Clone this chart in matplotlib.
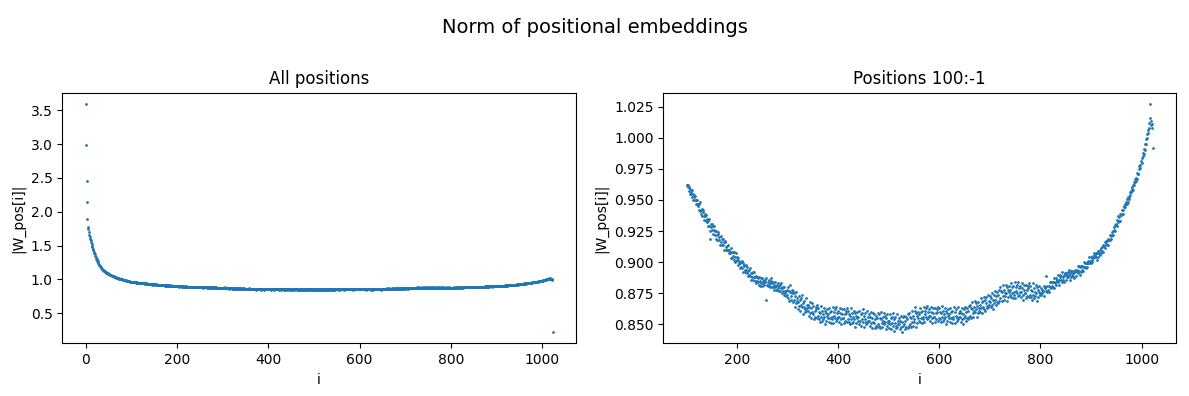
import numpy as np
import matplotlib
matplotlib.use("Agg")
import matplotlib.pyplot as plt

# norm of each positional embedding, in thousandths
norm_0_99 = [
    3590, 2990, 2460, 2140, 1890, 1780, 1740, 1700, 1660, 1630,
    1600, 1576, 1548, 1527, 1499, 1476, 1452, 1428, 1411, 1389,
    1371, 1348, 1332, 1309, 1296, 1278, 1266, 1249, 1237, 1219,
    1211, 1198, 1192, 1179, 1171, 1158, 1156, 1146, 1141, 1133,
    1131, 1122, 1119, 1110, 1107, 1099, 1097, 1090, 1089, 1082,
    1081, 1075, 1075, 1069, 1069, 1063, 1063, 1057, 1057, 1051,
    1051, 1045, 1045, 1039, 1040, 1033, 1034, 1027, 1028, 1021,
    1022, 1016, 1017, 1011, 1012, 1006, 1008, 1002, 1004, 999,
    1001, 995, 998, 992, 995, 988, 992, 985, 989, 981,
    984, 977, 981, 973, 977, 970, 973, 966, 969, 964,
]
norm_100_399 = [
    962, 962, 960, 962, 957, 960, 955, 959, 956, 955,
    958, 952, 955, 950, 954, 952, 950, 953, 947, 950,
    947, 950, 945, 947, 942, 947, 948, 941, 942, 939,
    943, 937, 940, 942, 937, 934, 939, 937, 933, 938,
    932, 935, 929, 933, 935, 929, 919, 925, 931, 928,
    931, 926, 929, 923, 926, 929, 922, 925, 919, 925,
    922, 918, 923, 924, 918, 920, 914, 921, 916, 919,
    914, 919, 914, 916, 910, 916, 917, 910, 912, 910,
    913, 910, 914, 907, 910, 907, 908, 911, 903, 908,
    903, 908, 905, 908, 902, 900, 904, 907, 901, 904,
    902, 898, 903, 899, 901, 895, 899, 900, 896, 901,
    895, 899, 892, 897, 898, 894, 892, 898, 894, 891,
    896, 893, 889, 894, 890, 895, 889, 886, 891, 891,
    888, 892, 886, 888, 892, 885, 888, 883, 889, 885,
    888, 884, 887, 882, 888, 885, 881, 887, 883, 887,
    881, 885, 883, 886, 882, 886, 884, 870, 887, 882,
    884, 881, 886, 882, 883, 880, 885, 887, 880, 883,
    880, 884, 878, 882, 884, 880, 878, 881, 882, 878,
    883, 879, 881, 877, 882, 877, 883, 879, 875, 879,
    877, 880, 874, 880, 877, 875, 877, 873, 878, 874,
    880, 871, 877, 869, 876, 882, 873, 870, 878, 875,
    868, 877, 870, 875, 864, 873, 867, 876, 871, 869,
    868, 862, 873, 865, 870, 861, 871, 866, 864, 874,
    858, 867, 864, 869, 862, 860, 871, 861, 866, 863,
    866, 861, 857, 864, 868, 859, 855, 863, 867, 860,
    858, 865, 854, 861, 856, 864, 862, 855, 866, 857,
    863, 854, 860, 852, 859, 865, 856, 853, 861, 858,
    854, 863, 856, 861, 850, 859, 853, 862, 857, 855,
    858, 852, 863, 855, 860, 851, 861, 856, 854, 864,
    851, 860, 857, 862, 855, 853, 864, 854, 859, 856,
]
norm_400_699 = [
    861, 856, 852, 859, 863, 854, 850, 858, 862, 855,
    855, 862, 851, 858, 853, 861, 859, 852, 863, 854,
    861, 852, 858, 850, 857, 863, 854, 851, 859, 856,
    852, 861, 854, 859, 848, 857, 851, 860, 855, 853,
    856, 850, 861, 853, 858, 849, 859, 854, 852, 862,
    848, 857, 854, 859, 852, 850, 861, 851, 856, 853,
    858, 853, 849, 856, 860, 851, 847, 855, 859, 852,
    851, 858, 847, 854, 849, 857, 855, 848, 859, 850,
    858, 849, 855, 847, 854, 860, 851, 848, 856, 853,
    850, 859, 852, 857, 846, 855, 849, 858, 853, 851,
    853, 847, 858, 850, 855, 846, 856, 851, 849, 859,
    845, 854, 851, 856, 849, 847, 858, 848, 853, 850,
    855, 850, 846, 853, 857, 848, 844, 852, 856, 849,
    850, 857, 846, 853, 848, 856, 854, 847, 858, 849,
    859, 850, 856, 848, 855, 861, 852, 849, 857, 854,
    852, 861, 864, 859, 848, 857, 851, 860, 855, 853,
    858, 852, 863, 855, 860, 851, 861, 856, 854, 864,
    852, 861, 858, 863, 856, 854, 865, 855, 860, 857,
    862, 857, 853, 860, 864, 855, 851, 859, 863, 856,
    856, 863, 852, 859, 854, 862, 860, 853, 864, 855,
    863, 854, 860, 852, 859, 865, 856, 853, 861, 858,
    854, 863, 856, 861, 850, 859, 853, 862, 857, 855,
    858, 852, 863, 855, 860, 851, 861, 856, 854, 864,
    851, 860, 857, 862, 855, 853, 864, 854, 859, 856,
    861, 856, 852, 859, 863, 854, 850, 858, 862, 855,
    857, 864, 853, 860, 855, 863, 861, 854, 865, 856,
    866, 857, 863, 855, 862, 868, 859, 856, 864, 861,
    860, 869, 862, 867, 856, 865, 859, 868, 863, 861,
    866, 860, 871, 863, 868, 859, 869, 864, 862, 872,
    861, 870, 867, 872, 865, 863, 874, 864, 869, 866,
]
norm_700_1023 = [
    873, 868, 864, 871, 875, 866, 862, 870, 874, 867,
    870, 877, 866, 873, 868, 876, 874, 867, 878, 869,
    880, 871, 877, 869, 876, 882, 873, 870, 878, 875,
    873, 882, 875, 880, 869, 878, 872, 881, 876, 874,
    878, 872, 883, 875, 880, 871, 881, 876, 874, 884,
    871, 880, 877, 882, 875, 873, 884, 874, 879, 876,
    881, 876, 872, 879, 883, 874, 870, 878, 882, 875,
    875, 882, 871, 878, 873, 881, 879, 872, 883, 874,
    881, 872, 878, 870, 877, 883, 874, 871, 879, 876,
    873, 882, 875, 880, 869, 878, 872, 881, 876, 874,
    875, 879, 874, 878, 875, 877, 877, 881, 873, 880,
    879, 877, 889, 876, 881, 878, 881, 876, 884, 880,
    879, 884, 881, 884, 880, 884, 879, 887, 884, 883,
    887, 882, 886, 885, 890, 884, 886, 882, 890, 888,
    886, 889, 884, 892, 888, 886, 890, 884, 890, 891,
    891, 886, 890, 888, 892, 888, 894, 890, 886, 891,
    888, 893, 890, 893, 889, 891, 887, 893, 892, 894,
    893, 889, 894, 893, 897, 891, 893, 897, 890, 896,
    892, 897, 894, 897, 893, 896, 900, 896, 899, 896,
    899, 895, 899, 896, 901, 899, 899, 904, 900, 901,
    899, 904, 902, 900, 905, 903, 907, 906, 904, 904,
    907, 902, 907, 904, 909, 907, 907, 910, 906, 911,
    907, 912, 909, 914, 908, 913, 913, 911, 916, 915,
    917, 914, 917, 914, 919, 918, 918, 922, 918, 921,
    919, 924, 922, 925, 922, 928, 926, 925, 930, 930,
    931, 929, 934, 932, 937, 933, 936, 933, 939, 938,
    938, 942, 939, 942, 939, 945, 944, 947, 944, 947,
    948, 947, 951, 948, 952, 952, 951, 956, 954, 957,
    956, 960, 959, 958, 962, 964, 962, 964, 967, 965,
    968, 967, 972, 971, 971, 975, 977, 976, 978, 981,
    980, 984, 985, 988, 987, 991, 990, 995, 995, 999,
    1000, 1003, 1006, 1004, 1008, 1012, 1016, 1027, 1010, 1013,
    1011, 1008, 992, 225,
]

norms = np.array(norm_0_99 + norm_100_399 + norm_400_699 + norm_700_1023) / 1000.0
pos = np.arange(len(norms))

fig, (ax1, ax2) = plt.subplots(1, 2, figsize=(11.89, 3.96), dpi=100)
fig.suptitle("Norm of positional embeddings", fontsize=14, y=0.955)

ax1.scatter(pos, norms, s=1)
ax1.set_title("All positions")
ax1.set_xlabel("i")
ax1.set_ylabel("|W_pos[i]|")

ax2.scatter(pos[100:-1], norms[100:-1], s=1)
ax2.set_title("Positions 100:-1")
ax2.set_xlabel("i")
ax2.set_ylabel("|W_pos[i]|")

ax1.set_position([0.0524, 0.1331, 0.432, 0.6329])
ax2.set_position([0.5579, 0.1331, 0.4311, 0.6329])

plt.savefig("out.png", dpi=100)
